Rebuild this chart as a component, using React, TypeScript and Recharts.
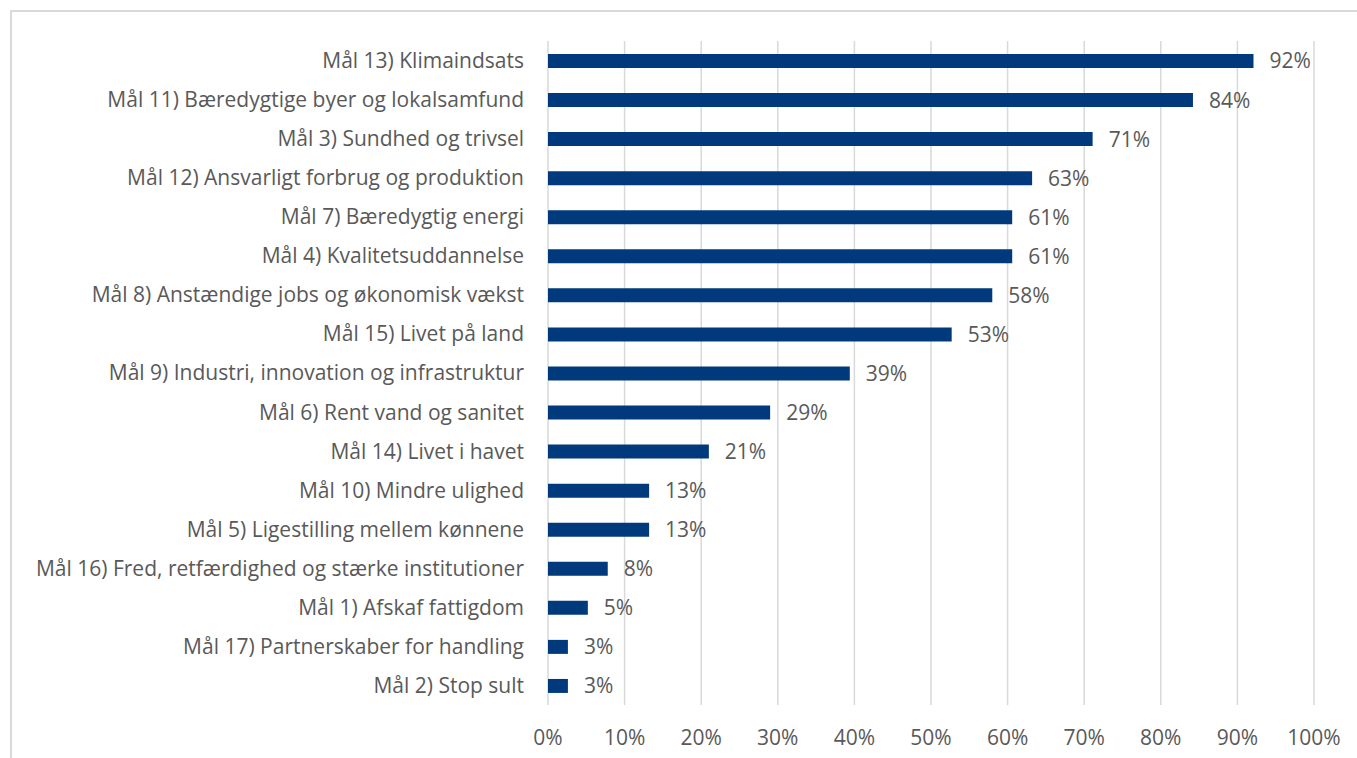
import { BarChart, Bar, XAxis, YAxis, CartesianGrid, LabelList } from "recharts";

const goals = [
  "Mål 13) Klimaindsats",
  "Mål 11) Bæredygtige byer og lokalsamfund",
  "Mål 3) Sundhed og trivsel",
  "Mål 12) Ansvarligt forbrug og produktion",
  "Mål 7) Bæredygtig energi",
  "Mål 4) Kvalitetsuddannelse",
  "Mål 8) Anstændige jobs og økonomisk vækst",
  "Mål 15) Livet på land",
  "Mål 9) Industri, innovation og infrastruktur",
  "Mål 6) Rent vand og sanitet",
  "Mål 14) Livet i havet",
  "Mål 10) Mindre ulighed",
  "Mål 5) Ligestilling mellem kønnene",
  "Mål 16) Fred, retfærdighed og stærke institutioner",
  "Mål 1) Afskaf fattigdom",
  "Mål 17) Partnerskaber for handling",
  "Mål 2) Stop sult",
];

const shares = [
  0.921, 0.842, 0.711, 0.632, 0.606, 0.606, 0.58, 0.527, 0.394, 0.29, 0.21,
  0.132, 0.132, 0.078, 0.052, 0.026, 0.026,
];

const ticks = [0, 0.1, 0.2, 0.3, 0.4, 0.5, 0.6, 0.7, 0.8, 0.9, 1];

const data = goals.map((name, i) => ({ name, value: shares[i] }));

const pct = (v: number) => `${Math.round(v * 100)}%`;
const font = "'Open Sans', sans-serif";
const textColor = "#595959";

export default function App() {
  return (
    <div style={{ position: "absolute", left: 0, top: 0, width: 1357, height: 758, overflow: "hidden", background: "#fff" }}>
      <div
        style={{
          position: "absolute",
          left: 10,
          top: 10,
          width: 1400,
          height: 800,
          border: "2px solid #d9d9d9",
        }}
      />
      <BarChart
        width={1357}
        height={758}
        data={data}
        layout="vertical"
        margin={{ top: 41, right: 43, bottom: 13, left: 0 }}
        barCategoryGap={0}
        style={{ position: "absolute", left: 0, top: 0, fontFamily: font }}
      >
        <CartesianGrid horizontal={false} stroke="#d9d9d9" strokeWidth={1.5} />
        <XAxis
          type="number"
          domain={[0, 1]}
          ticks={ticks}
          tickFormatter={pct}
          axisLine={false}
          tickLine={false}
          tickMargin={19}
          height={40}
          tick={{ fill: textColor, fontSize: 21, fontFamily: font }}
          interval={0}
        />
        <YAxis
          type="category"
          dataKey="name"
          width={548}
          axisLine={false}
          tickLine={false}
          tickSize={0}
          tickMargin={24}
          interval={0}
          tick={{ fill: textColor, fontSize: 21, fontFamily: font }}
        />
        <Bar dataKey="value" fill="#003a7d" barSize={14} isAnimationActive={false}>
          <LabelList
            dataKey="value"
            position="right"
            offset={16}
            formatter={(v: number) => pct(v)}
            style={{ fill: textColor, fontSize: 21, fontFamily: font }}
          />
        </Bar>
      </BarChart>
    </div>
  );
}
